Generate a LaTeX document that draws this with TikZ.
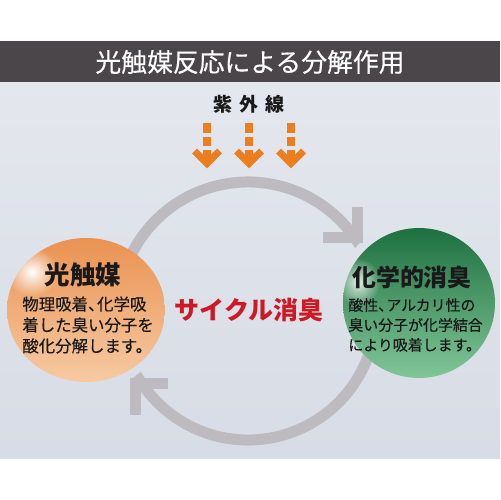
\documentclass[tikz,border=0pt]{standalone}
\usepackage{fontspec}
\setmainfont{Noto Sans CJK JP}
\newfontfamily\jpmed[FakeBold=0.35]{Noto Sans CJK JP}
\usetikzlibrary{shapes.geometric,calc,fadings}
\definecolor{barcol}{RGB}{74,70,74}
\definecolor{bgtop}{RGB}{228,231,237}
\definecolor{bgbot}{RGB}{215,220,230}
\definecolor{arccol}{RGB}{190,187,192}
\definecolor{uvcol}{RGB}{236,126,32}
\definecolor{redtxt}{RGB}{206,24,36}
\definecolor{otop}{RGB}{234,146,82}
\definecolor{omid}{RGB}{238,162,104}
\definecolor{obot}{RGB}{246,202,162}
\definecolor{gtop}{RGB}{30,112,64}
\definecolor{gmid}{RGB}{58,152,98}
\definecolor{gbot}{RGB}{128,198,152}
\tikzfading[name=glow,inner color=transparent!0,outer color=transparent!100]
\begin{document}
\begin{tikzpicture}[x=0.02cm,y=-0.02cm,
  cyc/.style={draw=arccol,line width=0.22cm,miter limit=10},
  uvdash/.style={fill=uvcol},
  uvhead/.style={draw=uvcol,line width=0.14cm,miter limit=10},
  ball/.style={ellipse,inner sep=0},
  txt/.style={inner sep=0,text=black!90}
]
\useasboundingbox (0,0) rectangle (500,500);
\fill[white] (0,0) rectangle (500,500);
\shade[top color=bgtop,bottom color=bgbot] (0,82) rectangle (500,458);
\fill[barcol] (0,41) rectangle (500,82);
\node[txt,text=white,font=\fontsize{14.7}{16}\selectfont\jpmed] (title) at (250,62) {光触媒反応による分解作用};

% UV
\node[txt,font=\fontsize{10.8}{12}\selectfont\bfseries] (uv) at (249,104) {紫\hspace{0.14cm}外\hspace{0.14cm}線};
\foreach \x/\n in {207/a,249/b,291/c}{
  \fill[uvdash] (\x-4,123) rectangle (\x+4,133);
  \fill[uvdash] (\x-4,137) rectangle (\x+4,146);
  \fill[uvdash] (\x-4,150) rectangle (\x+4,160);
  \coordinate (uvL\n) at (\x-12.5,151);
  \coordinate (uvT\n) at (\x,163.5);
  \coordinate (uvR\n) at (\x+12.5,151);
  \draw[uvhead] (uvL\n) -- (uvT\n) -- (uvR\n);
}

% cycle arcs
\coordinate (C) at (248,312);
\coordinate (upS) at ($(C)+(-160:130)$);
\coordinate (upE) at (357.5,237.5);
\coordinate (loS) at ($(C)+(20:128)$);
\coordinate (loE) at (135.5,383);
\draw[cyc] (upS) arc[start angle=-160,end angle=-34,radius=130] -- (upE);
\draw[cyc] (323,237.5) -- (upE) -- (357.5,207);
\draw[cyc] (loS) arc[start angle=20,end angle=148,radius=128] -- (loE);
\draw[cyc] (168,383) -- (loE) -- (135.5,415);

% balls
\node[ball,top color=otop,middle color=omid,bottom color=obot,minimum width=3.16cm,minimum height=2.88cm] (photo) at (86,310) {};
\begin{scope}
  \clip (86,310) ellipse[x radius=79,y radius=72];
  \fill[white,path fading=glow] (32,272) ellipse[x radius=26,y radius=24];
\end{scope}
\node[ball,top color=gtop,middle color=gmid,bottom color=gbot,minimum width=3.04cm,minimum height=3.0cm] (chem) at (419,303) {};
\begin{scope}
  \clip (419,303) ellipse[x radius=76,y radius=75];
  \fill[white,opacity=0.85,path fading=glow] (358,282) ellipse[x radius=22,y radius=24];
\end{scope}

\node[txt,font=\fontsize{14.5}{16}\selectfont\bfseries] (photoT) at (83,275) {光触媒};
\node[txt,align=left,anchor=west,font=\fontsize{9.35}{11.9}\selectfont\jpmed] (photoB) at (22,325) {物理吸着、\hspace{-0.45em}化学吸\\着した臭い分子を\\酸化分解します。};
\node[txt,font=\fontsize{13.6}{15}\selectfont\bfseries] (chemT) at (412,277) {化学的消臭};
\node[txt,align=left,anchor=west,font=\fontsize{8.5}{11.34}\selectfont\jpmed] (chemB) at (348,325) {酸性、\hspace{-0.45em}アルカリ性の\\臭い分子が化学結合\\により吸着します。};

\node[txt,text=redtxt,font=\fontsize{14.2}{16}\selectfont\bfseries] (cycle) at (249,310) {サイクル消臭};
\end{tikzpicture}
\end{document}
